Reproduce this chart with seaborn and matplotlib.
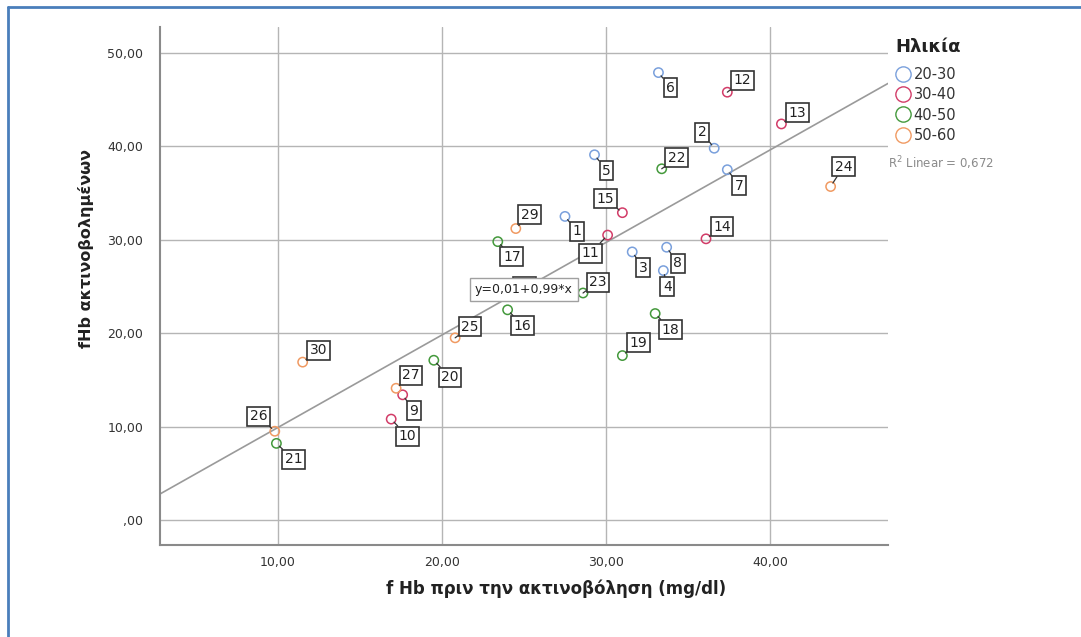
import numpy as np
import pandas as pd
import matplotlib
matplotlib.use('Agg')
import matplotlib.pyplot as plt
import seaborn as sns
from matplotlib.lines import Line2D

# ---------------- data ----------------
case_ids = list(range(1, 31))
age_groups = ['20-30'] * 8 + ['30-40'] * 7 + ['40-50'] * 8 + ['50-60'] * 7
fhb_before = [27.5, 36.6, 31.6, 33.5, 29.3, 33.2, 37.4, 33.7,
              17.6, 16.9, 30.1, 37.4, 40.7, 36.1, 31.0,
              24.0, 23.4, 33.0, 31.0, 19.5, 9.9, 33.4, 28.6,
              43.7, 20.8, 9.8, 17.2, 24.1, 24.5, 11.5]
fhb_irradiated = [32.5, 39.8, 28.7, 26.7, 39.1, 47.9, 37.5, 29.2,
                  13.4, 10.8, 30.5, 45.8, 42.4, 30.1, 32.9,
                  22.5, 29.8, 22.1, 17.6, 17.1, 8.2, 37.6, 24.3,
                  35.7, 19.5, 9.5, 14.1, 24.2, 31.2, 16.9]
age_levels = ['20-30', '30-40', '40-50', '50-60']
fit_intercept = 0.01
fit_slope = 0.99
r_squared = '0,672'
x_ticks = [10, 20, 30, 40]
y_ticks = [0, 10, 20, 30, 40, 50]

# ---------------- layout / style ----------------
palette = {'20-30': '#7aa0dc', '30-40': '#d23c68', '40-50': '#44993c', '50-60': '#f09a62'}
# label box offsets in pixels (dx right, dy down)
label_offsets = {1: (12, 15), 2: (-12, -16), 3: (11, 16), 4: (4, 16), 5: (12, 16),
                 6: (12, 15), 7: (12, 16), 8: (11, 16), 9: (11, 16), 10: (16, 17),
                 11: (-17, 18), 12: (15, -12), 13: (16, -11), 14: (16, -12), 15: (-17, -14),
                 16: (15, 16), 17: (14, 15), 18: (15, 16), 19: (16, -13), 20: (16, 17),
                 21: (17, 16), 22: (15, -11), 23: (15, -11), 24: (13, -20), 25: (15, -11),
                 26: (-16, -15), 27: (15, -13), 28: (15, -7), 29: (14, -14), 30: (16, -12)}

df = pd.DataFrame({'case': case_ids, 'age': age_groups,
                   'before': fhb_before, 'after': fhb_irradiated})

sns.set_style('white')
plt.rcParams['font.family'] = ['DejaVu Sans']

W, H = 1081, 637
fig = plt.figure(figsize=(W / 100, H / 100), dpi=100)
ax = fig.add_axes([160 / W, 1 - 545 / H, (888 - 160) / W, (545 - 27) / H])

ax.set_xlim(2.8, 47.2)
ax.set_ylim(-2.68, 52.78)


def fmt(v):
    s = f'{v:.2f}'.replace('.', ',')
    return ',00' if v == 0 else s


ax.set_xticks(x_ticks)
ax.set_yticks(y_ticks)
ax.set_xticklabels([fmt(v) for v in x_ticks])
ax.set_yticklabels([fmt(v) for v in y_ticks])
ax.tick_params(axis='both', length=0, labelsize=9, colors='#333333')
ax.tick_params(axis='y', pad=12)
ax.tick_params(axis='x', pad=8)

ax.grid(True, color='#b5b5b5', linewidth=1.0, zorder=0)
ax.set_axisbelow(True)
for s in ['top', 'right']:
    ax.spines[s].set_visible(False)
for s in ['left', 'bottom']:
    ax.spines[s].set_color('#8a8a8a')
    ax.spines[s].set_linewidth(1.5)

# regression line
ax.axline((0, fit_intercept), slope=fit_slope, color='#9a9a9a', linewidth=1.2, zorder=1)

sns.scatterplot(data=df, x='before', y='after', hue='age', hue_order=age_levels,
                palette=palette, s=45, linewidth=1.1, legend=False, ax=ax, zorder=4)
coll = ax.collections[-1]
coll.set_edgecolors(coll.get_facecolors())
coll.set_facecolors('none')

# case labels
for cid, xv, yv in zip(case_ids, fhb_before, fhb_irradiated):
    dx, dy = label_offsets[cid]
    ax.annotate(str(cid), xy=(xv, yv), xytext=(dx * 0.72, -dy * 0.72),
                textcoords='offset points', ha='center', va='center',
                fontsize=10, color='#222222', zorder=5,
                bbox=dict(boxstyle='square,pad=0.18', fc='white', ec='#333333', lw=1.2),
                arrowprops=dict(arrowstyle='-', color='#333333', lw=0.9,
                                shrinkA=0, shrinkB=3))

# equation box
ax.text(25.0, 24.7, 'y=0,01+0,99*x', ha='center', va='center', fontsize=9,
        color='#222222', zorder=10,
        bbox=dict(boxstyle='square,pad=0.42', fc='white', ec='#a0a0a0', lw=1.0))

ax.set_xlabel('')
ax.set_ylabel('')
fig.text(556 / W, 1 - 589 / H, 'f Hb πριν την ακτινοβόληση (mg/dl)', ha='center', va='center',
         fontsize=12, fontweight='bold', color='#222222')
fig.text(86 / W, 1 - 249 / H, 'fHb ακτινοβολημένων', ha='center', va='center', rotation=90,
         fontsize=11.5, fontweight='bold', color='#222222')

# legend (title drawn separately for exact spacing)
fig.text(928 / W, 1 - 47 / H, 'Ηλικία', ha='center', va='center',
         fontsize=13, fontweight='bold', color='#222222')
handles = [Line2D([], [], linestyle='none', marker='o', markersize=11, markerfacecolor='none',
                  markeredgecolor=palette[a], markeredgewidth=1.0) for a in age_levels]
leg = fig.legend(handles, age_levels, loc='upper left',
                 bbox_to_anchor=(896 / W, 1 - 67 / H), frameon=False, fontsize=10.5,
                 handlelength=1.0, handletextpad=0.2, labelspacing=0.36,
                 borderpad=0, borderaxespad=0)
for t in leg.get_texts():
    t.set_color('#333333')

fig.text(888 / W, 1 - 163 / H, 'R$^2$ Linear = ' + r_squared, ha='left', va='center',
         fontsize=8.5, color='#8a8a8a')

# outer blue frame (left and top edges)
fig.add_artist(Line2D([8 / W, 8 / W], [0, 1 - 7 / H], transform=fig.transFigure,
                      color='#4a7ebb', linewidth=2))
fig.add_artist(Line2D([8 / W, 1], [1 - 7 / H, 1 - 7 / H], transform=fig.transFigure,
                      color='#4a7ebb', linewidth=2))

fig.savefig('out.png', dpi=100)
